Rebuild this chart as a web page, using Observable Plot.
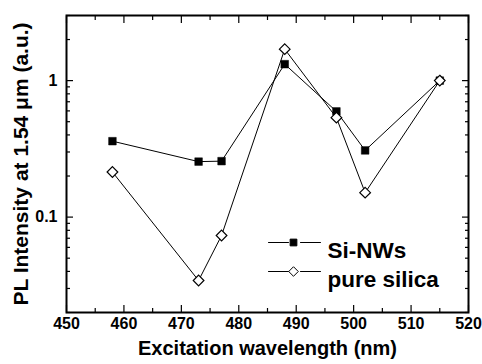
<!DOCTYPE html>
<html>
<head>
<meta charset="utf-8">
<script src="https://cdn.jsdelivr.net/npm/d3@7"></script>
<script src="https://cdn.jsdelivr.net/npm/@observablehq/plot@0.6"></script>
<style>
  html, body { margin: 0; padding: 0; background: #fff; }
  #chart svg { display: block; }
</style>
</head>
<body>
<div id="chart"></div>
<script>
// ---- data ----
const wavelengths = [458, 473, 477, 488, 497, 502, 515];
const siNWs       = [0.36, 0.255, 0.257, 1.32, 0.595, 0.308, 1.0];
const pureSilica  = [0.214, 0.0343, 0.0733, 1.70, 0.535, 0.151, 1.0];
const seriesNames = ["Si-NWs", "pure silica"];

const xTickValues = [450, 460, 470, 480, 490, 500, 510, 520];
const xMinorTickValues = [455, 465, 475, 485, 495, 505, 515];
const yTickValues = [0.1, 1];
const yTickLabels = ["0.1", "1"];
const yMinorTickValues = [0.02, 0.03, 0.04, 0.05, 0.06, 0.07, 0.08, 0.09,
                          0.2, 0.3, 0.4, 0.5, 0.6, 0.7, 0.8, 0.9, 2, 3];
const xTitle = "Excitation wavelength (nm)";
const yTitle = "PL Intensity at 1.54 \u03bcm (a.u.)";

// ---- tables ----
const siData = wavelengths.map((w, i) => ({w, v: siNWs[i]}));
const silicaData = wavelengths.map((w, i) => ({w, v: pureSilica[i]}));
const yLabelData = yTickValues.map((v, i) => ({v, label: yTickLabels[i]}));

const font = "'Liberation Sans', Arial, Helvetica, sans-serif";
const blank = () => "";
const segment = {draw(context, l) { context.moveTo(0, 0); context.lineTo(0, -l); }};

const tickAxes = [
  Plot.axisX(xTickValues, {anchor: "bottom", tickSize: -7, tickFormat: blank, label: null, strokeWidth: 1.2}),
  Plot.axisX(xTickValues, {anchor: "top", tickSize: -7, tickFormat: blank, label: null, strokeWidth: 1.2}),
  Plot.axisX(xMinorTickValues, {anchor: "bottom", tickSize: -4, tickFormat: blank, label: null, strokeWidth: 1.2}),
  Plot.axisX(xMinorTickValues, {anchor: "top", tickSize: -4, tickFormat: blank, label: null, strokeWidth: 1.2}),
  Plot.axisY(yTickValues, {anchor: "left", tickSize: -7, tickFormat: blank, label: null, strokeWidth: 1.2}),
  Plot.axisY(yTickValues, {anchor: "right", tickSize: -7, tickFormat: blank, label: null, strokeWidth: 1.2}),
  Plot.axisY(yMinorTickValues, {anchor: "left", tickSize: -4, tickFormat: blank, label: null, strokeWidth: 1.2}),
  Plot.axisY(yMinorTickValues, {anchor: "right", tickSize: -4, tickFormat: blank, label: null, strokeWidth: 1.2})
];

const tickLabels = [
  Plot.text(xTickValues, {x: d => d, frameAnchor: "bottom", dy: 16, text: d => String(d),
    fontSize: 16, fontWeight: "bold", fill: "black"}),
  Plot.text(yLabelData, {y: "v", frameAnchor: "left", dx: -9, text: "label", textAnchor: "end",
    fontSize: 16, fontWeight: "bold", fill: "black"})
];

// legend rows (pixel offsets from the frame's top-left corner)
const legendRows = [
  {name: seriesNames[0], dy: 227, symbol: "square", fill: "black", r: 3.8},
  {name: seriesNames[1], dy: 256, symbol: "diamond2", fill: "white", r: 4.3}
];
const legendMarks = legendRows.flatMap(row => [
  Plot.vector([row], {frameAnchor: "top-left", dx: 202, dy: row.dy, length: 20, rotate: 90,
    anchor: "start", shape: segment, stroke: "black", strokeWidth: 1}),
  Plot.vector([row], {frameAnchor: "top-left", dx: 234, dy: row.dy, length: 20, rotate: 90,
    anchor: "start", shape: segment, stroke: "black", strokeWidth: 1}),
  Plot.dot([row], {frameAnchor: "top-left", dx: 227, dy: row.dy, symbol: row.symbol,
    r: row.r, fill: row.fill, stroke: "black", strokeWidth: 1}),
  Plot.text([row], {frameAnchor: "top-left", dx: 261, dy: row.dy, text: d => d.name,
    textAnchor: "start", fontSize: 22.5, fontWeight: "bold", fill: "black"})
]);

const chart = Plot.plot({
  width: 482,
  height: 364,
  marginLeft: 66,
  marginRight: 14,
  marginTop: 15,
  marginBottom: 52,
  style: {fontFamily: font, fontWeight: "bold", fontSize: "16px", color: "black", background: "white"},
  x: {domain: [450, 520], label: null},
  y: {type: "log", domain: [0.02, 3], label: null},
  marks: [
    ...tickAxes,
    ...tickLabels,
    Plot.line(silicaData, {x: "w", y: "v", stroke: "black", strokeWidth: 1}),
    Plot.line(siData, {x: "w", y: "v", stroke: "black", strokeWidth: 1}),
    Plot.dot(siData, {x: "w", y: "v", symbol: "square", r: 4.3, fill: "black", stroke: "black", strokeWidth: 0.5}),
    Plot.dot(silicaData, {x: "w", y: "v", symbol: "diamond2", r: 4.8, fill: "white", stroke: "black", strokeWidth: 1.2}),
    ...legendMarks,
    Plot.frame({stroke: "black", strokeWidth: 2}),
    Plot.text([xTitle], {frameAnchor: "bottom", dy: 42, fontSize: 20, fontWeight: "bold", fill: "black"}),
    Plot.text([yTitle], {frameAnchor: "left", dx: -45, rotate: -90, textAnchor: "middle",
      fontSize: 21, fontWeight: "bold", fill: "black"})
  ]
});
document.getElementById("chart").appendChild(chart);
</script>
</body>
</html>
